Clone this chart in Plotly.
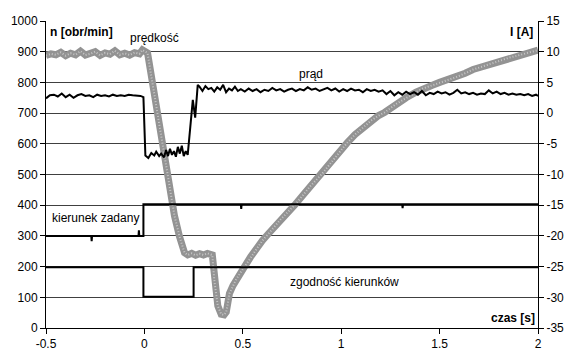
import plotly.graph_objects as go

# ---------------- data ----------------
x_ticks = [-0.5, 0, 0.5, 1, 1.5, 2]
x_ticklabels = ["-0.5", "0", "0.5", "1", "1.5", "2"]
n_ticks = [0, 100, 200, 300, 400, 500, 600, 700, 800, 900, 1000]
i_ticks = [-35, -30, -25, -20, -15, -10, -5, 0, 5, 10, 15]
i_ticklabels = ["-35", "-30", "-25", "-20", "-15", "-10", "-5", "0", "5", "10", "15"]

# speed (prędkość) [obr/min], left axis
speed_t = [-0.5, -0.475, -0.45, -0.425, -0.4, -0.375, -0.35, -0.325, -0.3, -0.275,
           -0.25, -0.225, -0.2, -0.175, -0.15, -0.125, -0.1, -0.075, -0.05, -0.025,
           -0.01, 0.016, 0.03, 0.06, 0.093, 0.11, 0.128, 0.153, 0.178, 0.204,
           0.22, 0.24, 0.26, 0.28, 0.30, 0.32, 0.345, 0.356, 0.373, 0.39,
           0.405, 0.416, 0.432, 0.45, 0.466, 0.49, 0.509, 0.54, 0.559, 0.576,
           0.6, 0.63, 0.66, 0.69, 0.72, 0.763, 0.8, 0.84, 0.9, 0.94,
           0.98, 1.03, 1.07, 1.11, 1.15, 1.19, 1.22, 1.28, 1.33, 1.38,
           1.415, 1.46, 1.5, 1.54, 1.584, 1.63, 1.67, 1.71, 1.754, 1.8,
           1.85, 1.9, 1.95, 1.99, 2.0]
speed_n = [888, 893, 890, 898, 887, 895, 890, 902, 889, 893,
           900, 888, 896, 892, 903, 890, 895, 889, 897, 893,
           906, 896, 840, 722, 591, 522, 463, 365, 299, 245,
           238, 243, 237, 242, 238, 243, 238, 150, 72, 45,
           43, 52, 112, 138, 158, 182, 200, 232, 250, 265,
           285, 307, 330, 352, 372, 400, 428, 460, 500, 532,
           565, 603, 630, 653, 675, 692, 702, 730, 750, 768,
           780, 790, 800, 808, 817, 830, 842, 850, 860, 868,
           880, 888, 897, 904, 905]

# current (prąd) [A], right axis
current_t = [-0.5, -0.48, -0.46, -0.44, -0.42, -0.4, -0.38, -0.36, -0.34, -0.32,
             -0.3, -0.28, -0.26, -0.24, -0.22, -0.2, -0.18, -0.16, -0.14, -0.12,
             -0.1, -0.08, -0.06, -0.04, -0.02, -0.005, 0.005, 0.02, 0.035, 0.05,
             0.06, 0.075, 0.085, 0.1, 0.11, 0.12, 0.13, 0.14, 0.15, 0.16,
             0.17, 0.18, 0.19, 0.2, 0.21, 0.22, 0.238, 0.246, 0.258, 0.271,
             0.28, 0.295, 0.31, 0.325, 0.34, 0.355, 0.37, 0.385, 0.40, 0.415,
             0.43, 0.445, 0.46, 0.475, 0.49, 0.51, 0.53, 0.55, 0.57, 0.59,
             0.61, 0.63, 0.65, 0.67, 0.69, 0.71, 0.73, 0.75, 0.77, 0.79,
             0.81, 0.83, 0.85, 0.87, 0.89, 0.91, 0.93, 0.95, 0.97, 0.99,
             1.01, 1.03, 1.05, 1.07, 1.09, 1.11, 1.13, 1.15, 1.17, 1.19,
             1.21, 1.23, 1.25, 1.27, 1.29, 1.31, 1.33, 1.35, 1.37, 1.39,
             1.41, 1.43, 1.45, 1.47, 1.49, 1.51, 1.53, 1.55, 1.57, 1.59,
             1.61, 1.63, 1.65, 1.67, 1.69, 1.71, 1.73, 1.75, 1.77, 1.79,
             1.81, 1.83, 1.85, 1.87, 1.89, 1.91, 1.93, 1.95, 1.97, 1.99, 2.0]
current_a = [2.4, 2.9, 3.0, 2.7, 3.2, 2.6, 3.0, 2.5, 2.9, 3.1,
             2.8, 2.9, 2.6, 3.0, 2.8, 2.9, 2.7, 3.0, 2.8, 2.9,
             2.8, 3.0, 2.9, 2.9, 2.8, 2.6, -6.9, -7.3, -6.5, -6.9,
             -6.3, -7.0, -6.6, -7.2, -6.0, -7.0, -5.8, -6.8, -6.2, -7.1,
             -5.5, -6.6, -5.3, -7.0, -6.2, -6.8, -0.55, 2.15, -0.75, 4.6,
             4.3, 3.6, 4.4, 3.9, 4.1, 3.5, 4.2, 3.8, 4.6, 3.4,
             4.0, 3.7, 4.3, 3.6, 3.9, 3.5, 4.0, 3.6, 3.9, 3.4,
             3.8, 3.6, 4.1, 3.7, 3.9, 3.5, 3.8, 4.0, 3.6, 3.9,
             3.7, 4.2, 3.8, 4.0, 3.6, 3.9, 4.1, 3.7, 4.0, 3.5,
             3.9, 3.6, 4.0, 3.7, 3.8, 3.4, 3.9, 3.6, 3.8, 3.5,
             3.7, 3.1, 3.6, 2.9, 3.4, 3.0, 3.5, 3.1, 3.4, 3.0,
             3.6, 2.9, 3.3, 3.1, 3.5, 3.2, 3.4, 3.0, 3.3, 3.8,
             3.2, 3.4, 3.1, 3.3, 3.0, 3.2, 3.1, 3.7, 3.2, 3.5,
             3.1, 3.3, 3.0, 3.2, 3.0, 3.1, 2.9, 3.1, 2.8, 3.0, 2.8]

# kierunek zadany (set direction), left axis scale
dir_t = [-0.5, -0.27, -0.268, -0.266, -0.03, -0.028, -0.026, -0.005, -0.005,
         0.49, 0.492, 0.494, 1.31, 1.312, 1.314, 2.0]
dir_n = [300, 300, 283, 300, 300, 318, 300, 300, 403,
         403, 388, 403, 403, 390, 403, 403]

# zgodność kierunków (direction agreement), left axis scale
agree_t = [-0.5, -0.005, -0.005, 0.25, 0.25, 2.0]
agree_n = [198, 198, 102, 102, 198, 198]

# ---------------- figure ----------------
FONT = "Liberation Sans, Arial, sans-serif"
fig = go.Figure()

fig.add_trace(go.Scatter(x=speed_t, y=speed_n, mode="lines",
                         line=dict(color="#939393", width=7), hoverinfo="skip",
                         showlegend=False))
fig.add_trace(go.Scatter(x=speed_t, y=speed_n, mode="lines",
                         line=dict(color="#c6c6c6", width=2, dash="1px,2px"),
                         hoverinfo="skip", showlegend=False))
fig.add_trace(go.Scatter(x=dir_t, y=dir_n, mode="lines",
                         line=dict(color="black", width=2), showlegend=False))
fig.add_trace(go.Scatter(x=agree_t, y=agree_n, mode="lines",
                         line=dict(color="black", width=2), showlegend=False))
fig.add_trace(go.Scatter(x=current_t, y=current_a, mode="lines", yaxis="y2",
                         line=dict(color="black", width=2), showlegend=False))

ann = dict(font=dict(family=FONT, size=12, color="black"), showarrow=False,
           xref="x", yref="y")
annotations = [
    dict(text="<b>n [obr/min]</b>", x=-0.5, y=965, xanchor="left", xshift=2, **ann),
    dict(text="prędkość", x=0.052, y=945, **ann),
    dict(text="prąd", x=0.848, y=826, **ann),
    dict(text="<b>I [A]</b>", x=2, y=965, xanchor="right", xshift=-3, **ann),
    dict(text="kierunek zadany", x=-0.482, y=357, xanchor="left", **ann),
    dict(text="zgodność kierunków", x=1.017, y=151, **ann),
    dict(text="<b>czas [s]</b>", x=2, y=34, xanchor="right", xshift=-1, **ann),
]

fig.update_layout(
    width=566, height=352,
    margin=dict(l=46, r=28, t=21, b=24, autoexpand=False),
    paper_bgcolor="white", plot_bgcolor="white",
    font=dict(family=FONT, size=12, color="black"),
    annotations=annotations,
    xaxis=dict(range=[-0.5, 2], tickvals=x_ticks, ticktext=x_ticklabels,
               automargin=False,
               showgrid=False, zeroline=False, showline=True, linecolor="black",
               linewidth=1, ticks="outside", ticklen=5, tickcolor="black"),
    yaxis=dict(range=[0, 1000], tickvals=n_ticks, showgrid=True, automargin=False,
               gridcolor="#404040", gridwidth=1, zeroline=False, showline=True,
               linecolor="black", linewidth=1, ticks="outside", ticklen=5,
               tickcolor="black"),
    yaxis2=dict(range=[-35, 15], tickvals=i_ticks, ticktext=i_ticklabels,
                automargin=False,
                overlaying="y", side="right", showgrid=False, zeroline=False,
                showline=True, linecolor="black", linewidth=1, ticks="outside",
                ticklen=5, tickcolor="black"),
)

fig.write_html("out.html",
               config={"displayModeBar": False, "staticPlot": True},
               post_script="document.body.style.margin='0';"
                           "document.body.style.overflow='hidden';")
